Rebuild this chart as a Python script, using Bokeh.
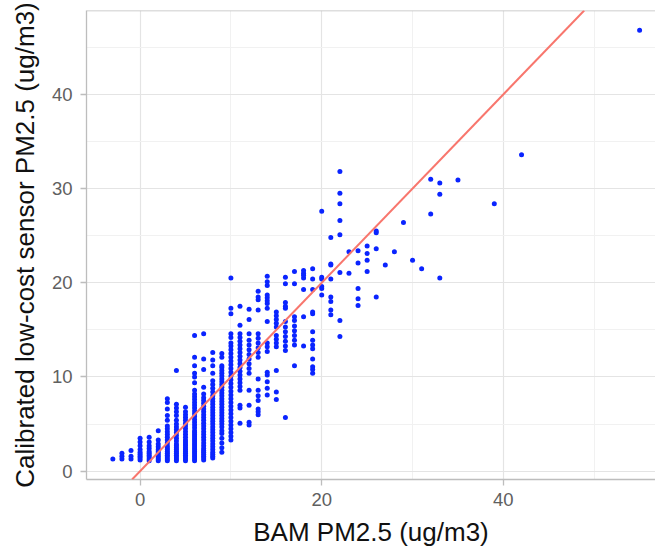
from bokeh.plotting import figure
from bokeh.models import Range1d, FixedTicker, Slope, Span, ColumnDataSource
from bokeh.embed import file_html
from bokeh.resources import INLINE

# ---- data: calibrated sensor PM2.5 values, grouped by BAM PM2.5 value ----
bam_levels = [-3, -2, -1, 0, 1, 2, 3, 4, 5, 6, 7, 8, 9, 10, 11, 12, 13, 14, 15,
              16, 17, 18, 19, 20, 21, 22, 23, 24, 25, 26, 27, 28, 29, 30, 31,
              32, 33, 35, 39, 42, 55]

y_m3 = [1.3]
y_m2 = [1.3, 1.6, 1.9]
y_m1 = [1.3, 1.6, 2.2]
y_0 = [1.2, 1.4, 1.6, 1.8, 2.0, 2.3, 2.7, 3.1, 3.5]
y_1 = [1.1, 1.3, 1.5, 1.7, 1.9, 2.1, 2.4, 2.7, 3.1, 3.6]
y_2 = [1.1, 1.3, 1.5, 1.7, 1.9, 2.1, 2.3, 2.6, 2.9, 3.3, 4.3]
y_3 = [1.1, 1.3, 1.5, 1.7, 1.9, 2.1, 2.3, 2.5, 2.7, 3.0, 3.3, 3.6, 3.9, 4.2,
       4.5, 4.8, 5.4, 5.9, 6.6, 7.3, 7.7]
y_4 = [1.1, 1.3, 1.5, 1.7, 1.9, 2.1, 2.3, 2.5, 2.7, 2.9, 3.2, 3.5, 3.8, 4.1,
       4.4, 4.7, 5.0, 5.4, 5.9, 6.3, 6.7, 7.1, 10.7]
y_5 = [1.1, 1.3, 1.5, 1.7, 1.9, 2.1, 2.3, 2.5, 2.7, 2.9, 3.1, 3.3, 3.6, 3.9,
       4.2, 4.5, 4.8, 5.1, 5.4, 5.7, 6.0, 6.3, 6.8]
y_6 = [1.1, 1.3, 1.5, 1.7, 1.9, 2.1, 2.3, 2.5, 2.7, 2.9, 3.1, 3.3, 3.5, 3.7,
       3.9, 4.1, 4.3, 4.6, 4.9, 5.2, 5.5, 5.8, 6.1, 6.4, 6.7, 7.0, 7.3, 7.6,
       7.9, 8.2, 8.6, 9.4, 10.0, 10.4, 11.2, 12.1, 14.4]
y_7 = [1.2, 1.4, 1.6, 1.8, 2.0, 2.2, 2.4, 2.7, 3.0, 3.3, 3.6, 3.9, 4.2, 4.5,
       4.8, 5.1, 5.4, 5.7, 6.0, 6.3, 6.6, 6.9, 7.2, 7.5, 7.8, 8.2, 8.9, 10.8,
       11.9, 14.6]
y_8 = [1.4, 1.6, 1.8, 2.0, 2.3, 2.6, 2.9, 3.2, 3.5, 3.8, 4.1, 4.4, 4.7, 5.0,
       5.3, 5.6, 5.9, 6.2, 6.5, 6.8, 7.1, 7.4, 7.7, 8.0, 8.4, 8.8, 9.2, 9.6,
       10.4, 11.2, 11.8, 12.6]
y_9 = [2.0, 2.5, 3.0, 3.5, 4.0, 4.3, 4.7, 5.0, 5.3, 5.6, 5.9, 6.2, 6.5, 6.8,
       7.1, 7.4, 7.7, 8.0, 8.3, 8.6, 8.9, 9.2, 9.5, 9.8, 10.1, 10.4, 10.7,
       11.0, 11.2, 12.1, 12.5]
y_10 = [3.3, 3.7, 4.1, 4.5, 4.9, 5.3, 5.7, 6.1, 6.5, 6.9, 7.3, 7.7, 8.1, 8.5,
        8.9, 9.3, 9.7, 10.1, 10.5, 10.9, 11.3, 11.7, 12.1, 12.5, 12.9, 13.3,
        13.6, 14.2, 14.6, 16.7, 17.3, 20.5]
y_11 = [5.1, 6.7, 7.0, 8.6, 9.0, 9.4, 9.8, 10.2, 10.6, 11.0, 11.4, 11.8, 12.2,
        12.6, 13.0, 13.4, 13.8, 14.2, 14.6, 15.5, 17.5]
y_12 = [4.9, 5.2, 7.0, 8.6, 10.4, 10.9, 11.4, 11.9, 12.4, 12.9, 13.4, 13.9,
        14.6, 16.1, 17.2]
y_13 = [6.0, 6.3, 6.6, 7.5, 8.0, 8.6, 9.8, 12.1, 12.6, 13.1, 13.6, 14.1, 14.6,
        17.1, 18.2, 18.5, 19.1]
y_14 = [8.1, 8.8, 9.5, 10.2, 10.5, 12.7, 13.2, 13.6, 15.9, 17.3, 17.8, 18.1,
        18.4, 18.7, 19.7, 20.1, 20.7]
y_15 = [7.6, 8.4, 10.7, 13.2, 13.6, 14.0, 14.4, 15.3, 15.7, 16.1, 16.5, 16.9]
y_16 = [5.7, 12.8, 13.3, 13.8, 14.3, 14.8, 15.3, 15.9, 17.3, 17.5, 17.9, 19.9,
        20.6]
y_17 = [11.2, 13.4, 13.9, 14.4, 14.9, 15.4, 16.0, 16.4, 19.9, 21.2]
y_18 = [13.3, 16.4, 19.3, 20.5, 20.8, 21.0, 21.3]
y_19 = [10.4, 10.8, 11.1, 11.9, 13.0, 13.4, 13.9, 14.8, 16.7, 16.9, 19.3, 20.4,
        21.5]
y_20 = [18.7, 19.4, 19.6, 20.4, 20.6, 27.6]
y_21 = [16.6, 17.1, 18.0, 18.5, 20.4, 21.9, 22.0, 24.8]
y_22 = [14.3, 16.0, 21.1, 25.1, 26.6, 28.4, 29.5, 31.8]
y_23 = [21.0, 23.3]
y_24 = [17.6, 18.3, 19.4, 22.1, 23.4]
y_25 = [21.2, 22.4, 23.1, 23.9]
y_26 = [18.5, 23.6, 25.3, 25.5]
y_27 = [21.9]
y_28 = [23.3]
y_29 = [26.4]
y_30 = [22.4]
y_31 = [21.5]
y_32 = [27.3, 31.0]
y_33 = [20.5, 29.4, 30.6]
y_35 = [30.9]
y_39 = [28.4]
y_42 = [33.6]
y_55 = [46.8]

sensor_groups = [y_m3, y_m2, y_m1, y_0, y_1, y_2, y_3, y_4, y_5, y_6, y_7, y_8,
                 y_9, y_10, y_11, y_12, y_13, y_14, y_15, y_16, y_17, y_18,
                 y_19, y_20, y_21, y_22, y_23, y_24, y_25, y_26, y_27, y_28,
                 y_29, y_30, y_31, y_32, y_33, y_35, y_39, y_42, y_55]

x_major_ticks = [0, 20, 40]
x_minor_ticks = [10, 30, 50]
y_major_ticks = [0, 10, 20, 30, 40]
y_minor_ticks = [5, 15, 25, 35, 45]

x_title = "BAM PM2.5 (ug/m3)"
y_title = "Calibrated low-cost sensor PM2.5 (ug/m3)"

# ---- build source ----
bam = []
sensor = []
for level, ys in zip(bam_levels, sensor_groups):
    bam += [level] * len(ys)
    sensor += ys
src = ColumnDataSource(data=dict(bam=bam, sensor=sensor))

x_start, x_end = -5.9, 56.75
y_start, y_end = -0.88, 48.9

FONT = "Liberation Sans"
BORDER = "#BDBDBD"

p = figure(width=655, height=550, output_backend="svg", toolbar_location=None,
           x_range=Range1d(x_start, x_end), y_range=Range1d(y_start, y_end),
           min_border_left=86, min_border_right=0, min_border_top=10,
           min_border_bottom=71)
p.outline_line_color = None
p.background_fill_color = "white"
p.border_fill_color = "white"

p.xaxis.ticker = FixedTicker(ticks=x_major_ticks, minor_ticks=x_minor_ticks)
p.yaxis.ticker = FixedTicker(ticks=y_major_ticks, minor_ticks=y_minor_ticks)

for g in (p.xgrid, p.ygrid):
    g.grid_line_color = "#E4E4E4"
    g.grid_line_width = 1.2
    g.minor_grid_line_color = "#F1F1F1"
    g.minor_grid_line_width = 1.0

for ax in (p.xaxis, p.yaxis):
    ax.axis_line_color = BORDER
    ax.axis_line_width = 1.3
    ax.major_tick_line_color = BORDER
    ax.major_tick_line_width = 1.3
    ax.major_tick_out = 6
    ax.major_tick_in = 0
    ax.minor_tick_line_color = None
    ax.major_label_text_font = FONT
    ax.major_label_text_font_size = "18.5px"
    ax.major_label_text_color = "#606060"
    ax.axis_label_text_font = FONT
    ax.axis_label_text_font_size = "26px"
    ax.axis_label_text_font_style = "normal"
    ax.axis_label_text_color = "#111111"

p.xaxis.major_label_standoff = 7
p.yaxis.major_label_standoff = 8
p.xaxis.axis_label = x_title
p.yaxis.axis_label = y_title
p.xaxis.axis_label_standoff = 8
p.yaxis.axis_label_standoff = 9

p.add_layout(Span(location=y_end, dimension="width", line_color=BORDER,
                  line_width=1.5))

p.scatter(x="bam", y="sensor", source=src, size=5, marker="circle",
          fill_color="#0A24FF", line_color=None)

p.add_layout(Slope(gradient=1, y_intercept=0, line_color="#F8766D",
                   line_width=2))

open("out.html", "w").write(file_html(p, INLINE))
